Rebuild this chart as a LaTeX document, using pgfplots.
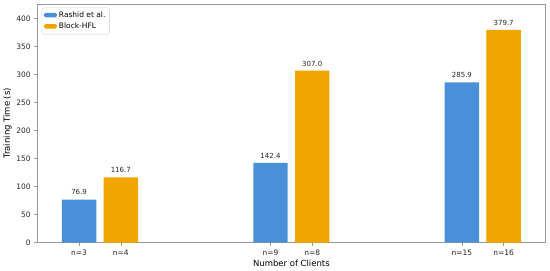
\documentclass[border=0pt]{standalone}
\usepackage{fontspec}
\setmainfont{DejaVu Sans}
\usepackage{pgfplots}
\pgfplotsset{compat=1.18}
\definecolor{rblue}{HTML}{4A90D9}
\definecolor{borange}{HTML}{F0A500}
\definecolor{axgray}{HTML}{9A9A9A}
\begin{document}
\begin{tikzpicture}
\begin{axis}[
    width=508pt, height=239pt, scale only axis,
    xmin=-0.325, xmax=2.325, ymin=0, ymax=426,
    ybar, bar width=0.18, bar shift=0pt,
    xtick={-0.109,0.109,0.891,1.109,1.891,2.109},
    xticklabels={n=3,n=4,n=9,n=8,n=15,n=16},
    ytick={0,50,...,400},
    tick align=outside, tick pos=left, major tick length=3.5pt,
    axis line style={axgray, line width=0.8pt},
    tick style={axgray, line width=0.6pt},
    /pgf/number format/assume math mode=true,
    ticklabel style={font=\fontsize{7.5}{8}\selectfont, text=black!85},
    xlabel={Number of Clients}, ylabel={Training Time (s)},
    label style={font=\fontsize{8.5}{9}\selectfont},
    xlabel style={yshift=2pt},
    ylabel style={yshift=-2pt},
    nodes near coords,
    nodes near coords style={font=\fontsize{7}{7}\selectfont, text=black!85,
        /pgf/number format/fixed, /pgf/number format/fixed zerofill,
        /pgf/number format/precision=1, yshift=1pt},
    legend style={at={(0.008,0.985)}, anchor=north west, draw=black!20,
        rounded corners=1.5pt, font=\fontsize{7.5}{8}\selectfont,
        inner sep=2pt, row sep=0pt, cells={anchor=west}},
    legend image code/.code={\fill[#1] (0pt,-2pt) rectangle (13pt,2.5pt);},
]
\addplot[fill=rblue, draw=none] coordinates {(-0.109,76.9) (0.891,142.4) (1.891,285.9)};
\addplot[fill=borange, draw=none] coordinates {(0.109,116.7) (1.109,307.0) (2.109,379.7)};
\legend{Rashid et al., Block-HFL}
\end{axis}
\path (current axis.north east) ++(5pt,4pt) coordinate (pad);
\end{tikzpicture}
\end{document}
